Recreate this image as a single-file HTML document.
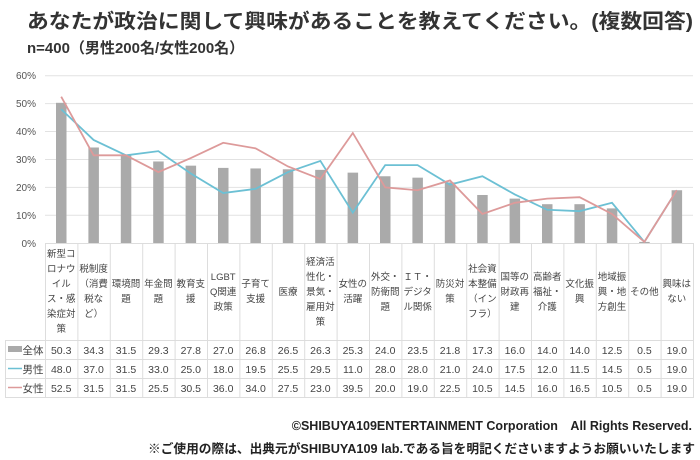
<!DOCTYPE html>
<html><head><meta charset="utf-8"><style>
body{margin:0;background:#fff;}
svg{display:block;font-family:"Liberation Sans","Noto Sans CJK JP",sans-serif;}
</style></head><body>
<svg width="700" height="460" viewBox="0 0 700 460">
<text x="27" y="28" font-size="20" font-weight="bold" fill="#333" textLength="666" lengthAdjust="spacingAndGlyphs">あなたが政治に関して興味があることを教えてください。(複数回答)</text>
<text x="27" y="53" font-size="15" font-weight="bold" fill="#333">n=400（男性200名/女性200名）</text>
<g stroke="#e2e2e2" stroke-width="1">
<line x1="45" x2="693" y1="75.7" y2="75.7"/><line x1="45" x2="693" y1="103.6" y2="103.6"/><line x1="45" x2="693" y1="131.5" y2="131.5"/><line x1="45" x2="693" y1="159.5" y2="159.5"/><line x1="45" x2="693" y1="187.4" y2="187.4"/><line x1="45" x2="693" y1="215.3" y2="215.3"/>
</g>
<g font-size="10" fill="#555" text-anchor="end">
<text x="36" y="79">60%</text><text x="36" y="107">50%</text><text x="36" y="135">40%</text><text x="36" y="163">30%</text><text x="36" y="191">20%</text><text x="36" y="219">10%</text><text x="36" y="247">0%</text>
</g>
<g transform="translate(0,243.3) scale(1,-2.793)">
<g fill="#aaa">
<rect x="56" width="10.5" y="0" height="50.3"/><rect x="88.4" width="10.5" y="0" height="34.3"/><rect x="120.8" width="10.5" y="0" height="31.5"/><rect x="153.2" width="10.5" y="0" height="29.3"/><rect x="185.6" width="10.5" y="0" height="27.8"/><rect x="218" width="10.5" y="0" height="27"/><rect x="250.4" width="10.5" y="0" height="26.8"/><rect x="282.8" width="10.5" y="0" height="26.5"/><rect x="315.2" width="10.5" y="0" height="26.3"/><rect x="347.6" width="10.5" y="0" height="25.3"/><rect x="380" width="10.5" y="0" height="24"/><rect x="412.4" width="10.5" y="0" height="23.5"/><rect x="444.8" width="10.5" y="0" height="21.8"/><rect x="477.2" width="10.5" y="0" height="17.3"/><rect x="509.6" width="10.5" y="0" height="16"/><rect x="542" width="10.5" y="0" height="14"/><rect x="574.4" width="10.5" y="0" height="14"/><rect x="606.8" width="10.5" y="0" height="12.5"/><rect x="639.2" width="10.5" y="0" height="0.5"/><rect x="671.6" width="10.5" y="0" height="19"/>
</g>
<polyline fill="none" stroke="#6cc0d4" stroke-width="1.8" vector-effect="non-scaling-stroke" points="61.2,48 93.6,37 126,31.5 158.4,33 190.8,25 223.2,18 255.6,19.5 288,25.5 320.4,29.5 352.8,11 385.2,28 417.6,28 450,21 482.4,24 514.8,17.5 547.2,12 579.6,11.5 612,14.5 644.4,0.5 676.8,19"/>
<polyline fill="none" stroke="#dd9a9a" stroke-width="1.8" vector-effect="non-scaling-stroke" points="61.2,52.5 93.6,31.5 126,31.5 158.4,25.5 190.8,30.5 223.2,36 255.6,34 288,27.5 320.4,23 352.8,39.5 385.2,20 417.6,19 450,22.5 482.4,10.5 514.8,14.5 547.2,16 579.6,16.5 612,10.5 644.4,0.5 676.8,19"/>
</g>
<g stroke="#ddd" stroke-width="1" fill="none">
<line x1="45" x2="693" y1="243.5" y2="243.5"/>
<line x1="5" x2="693" y1="340.5" y2="340.5"/><line x1="5" x2="693" y1="359.5" y2="359.5"/><line x1="5" x2="693" y1="378.5" y2="378.5"/><line x1="5" x2="693" y1="397.5" y2="397.5"/>
<line x1="5.5" x2="5.5" y1="340" y2="398"/>
<line x1="45.5" x2="45.5" y1="243" y2="398"/><line x1="77.9" x2="77.9" y1="243" y2="398"/><line x1="110.3" x2="110.3" y1="243" y2="398"/><line x1="142.7" x2="142.7" y1="243" y2="398"/><line x1="175.1" x2="175.1" y1="243" y2="398"/><line x1="207.5" x2="207.5" y1="243" y2="398"/><line x1="239.9" x2="239.9" y1="243" y2="398"/><line x1="272.3" x2="272.3" y1="243" y2="398"/><line x1="304.7" x2="304.7" y1="243" y2="398"/><line x1="337.1" x2="337.1" y1="243" y2="398"/><line x1="369.5" x2="369.5" y1="243" y2="398"/><line x1="401.9" x2="401.9" y1="243" y2="398"/><line x1="434.3" x2="434.3" y1="243" y2="398"/><line x1="466.7" x2="466.7" y1="243" y2="398"/><line x1="499.1" x2="499.1" y1="243" y2="398"/><line x1="531.5" x2="531.5" y1="243" y2="398"/><line x1="563.9" x2="563.9" y1="243" y2="398"/><line x1="596.3" x2="596.3" y1="243" y2="398"/><line x1="628.7" x2="628.7" y1="243" y2="398"/><line x1="661.1" x2="661.1" y1="243" y2="398"/><line x1="693.5" x2="693.5" y1="243" y2="398"/>
</g>
<g font-size="9.5" fill="#444" text-anchor="middle">
<text x="61.2" y="257"><tspan x="61.2">新型コ</tspan><tspan x="61.2" dy="15">ロナウ</tspan><tspan x="61.2" dy="15">イル</tspan><tspan x="61.2" dy="15">ス・感</tspan><tspan x="61.2" dy="15">染症対</tspan><tspan x="61.2" dy="15">策</tspan></text>
<text y="272"><tspan x="93.6">税制度</tspan><tspan x="93.6" dy="15">（消費</tspan><tspan x="93.6" dy="15">税な</tspan><tspan x="93.6" dy="15">ど）</tspan></text>
<text y="287"><tspan x="126">環境問</tspan><tspan x="126" dy="15">題</tspan></text>
<text y="287"><tspan x="158.4">年金問</tspan><tspan x="158.4" dy="15">題</tspan></text>
<text y="287"><tspan x="190.8">教育支</tspan><tspan x="190.8" dy="15">援</tspan></text>
<text y="280"><tspan x="223.2">LGBT</tspan><tspan x="223.2" dy="15">Q関連</tspan><tspan x="223.2" dy="15">政策</tspan></text>
<text y="287"><tspan x="255.6">子育て</tspan><tspan x="255.6" dy="15">支援</tspan></text>
<text y="295"><tspan x="288">医療</tspan></text>
<text y="265"><tspan x="320.4">経済活</tspan><tspan x="320.4" dy="15">性化・</tspan><tspan x="320.4" dy="15">景気・</tspan><tspan x="320.4" dy="15">雇用対</tspan><tspan x="320.4" dy="15">策</tspan></text>
<text y="287"><tspan x="352.8">女性の</tspan><tspan x="352.8" dy="15">活躍</tspan></text>
<text y="280"><tspan x="385.2">外交・</tspan><tspan x="385.2" dy="15">防衛問</tspan><tspan x="385.2" dy="15">題</tspan></text>
<text y="280"><tspan x="417.6">ＩＴ・</tspan><tspan x="417.6" dy="15">デジタ</tspan><tspan x="417.6" dy="15">ル関係</tspan></text>
<text y="287"><tspan x="450">防災対</tspan><tspan x="450" dy="15">策</tspan></text>
<text y="272"><tspan x="482.4">社会資</tspan><tspan x="482.4" dy="15">本整備</tspan><tspan x="482.4" dy="15">（イン</tspan><tspan x="482.4" dy="15">フラ）</tspan></text>
<text y="280"><tspan x="514.8">国等の</tspan><tspan x="514.8" dy="15">財政再</tspan><tspan x="514.8" dy="15">建</tspan></text>
<text y="280"><tspan x="547.2">高齢者</tspan><tspan x="547.2" dy="15">福祉・</tspan><tspan x="547.2" dy="15">介護</tspan></text>
<text y="287"><tspan x="579.6">文化振</tspan><tspan x="579.6" dy="15">興</tspan></text>
<text y="280"><tspan x="612">地域振</tspan><tspan x="612" dy="15">興・地</tspan><tspan x="612" dy="15">方創生</tspan></text>
<text y="295"><tspan x="644.4">その他</tspan></text>
<text y="287"><tspan x="676.8">興味は</tspan><tspan x="676.8" dy="15">ない</tspan></text>
</g>
<rect x="8" y="346" width="14" height="6" fill="#aaa"/>
<line x1="8" x2="22" y1="368.5" y2="368.5" stroke="#6cc0d4" stroke-width="1.5"/>
<line x1="8" x2="22" y1="387.5" y2="387.5" stroke="#dd9a9a" stroke-width="1.5"/>
<g font-size="10.5" fill="#444" text-anchor="middle">
<text x="33" y="354">全体</text><text x="33" y="373">男性</text><text x="33" y="392">女性</text>
</g>
<g font-size="10.5" fill="#444" text-anchor="middle">
<text y="354"><tspan x="61.2">50.3</tspan><tspan x="93.6">34.3</tspan><tspan x="126">31.5</tspan><tspan x="158.4">29.3</tspan><tspan x="190.8">27.8</tspan><tspan x="223.2">27.0</tspan><tspan x="255.6">26.8</tspan><tspan x="288">26.5</tspan><tspan x="320.4">26.3</tspan><tspan x="352.8">25.3</tspan><tspan x="385.2">24.0</tspan><tspan x="417.6">23.5</tspan><tspan x="450">21.8</tspan><tspan x="482.4">17.3</tspan><tspan x="514.8">16.0</tspan><tspan x="547.2">14.0</tspan><tspan x="579.6">14.0</tspan><tspan x="612">12.5</tspan><tspan x="644.4">0.5</tspan><tspan x="676.8">19.0</tspan></text>
<text y="373"><tspan x="61.2">48.0</tspan><tspan x="93.6">37.0</tspan><tspan x="126">31.5</tspan><tspan x="158.4">33.0</tspan><tspan x="190.8">25.0</tspan><tspan x="223.2">18.0</tspan><tspan x="255.6">19.5</tspan><tspan x="288">25.5</tspan><tspan x="320.4">29.5</tspan><tspan x="352.8">11.0</tspan><tspan x="385.2">28.0</tspan><tspan x="417.6">28.0</tspan><tspan x="450">21.0</tspan><tspan x="482.4">24.0</tspan><tspan x="514.8">17.5</tspan><tspan x="547.2">12.0</tspan><tspan x="579.6">11.5</tspan><tspan x="612">14.5</tspan><tspan x="644.4">0.5</tspan><tspan x="676.8">19.0</tspan></text>
<text y="392"><tspan x="61.2">52.5</tspan><tspan x="93.6">31.5</tspan><tspan x="126">31.5</tspan><tspan x="158.4">25.5</tspan><tspan x="190.8">30.5</tspan><tspan x="223.2">36.0</tspan><tspan x="255.6">34.0</tspan><tspan x="288">27.5</tspan><tspan x="320.4">23.0</tspan><tspan x="352.8">39.5</tspan><tspan x="385.2">20.0</tspan><tspan x="417.6">19.0</tspan><tspan x="450">22.5</tspan><tspan x="482.4">10.5</tspan><tspan x="514.8">14.5</tspan><tspan x="547.2">16.0</tspan><tspan x="579.6">16.5</tspan><tspan x="612">10.5</tspan><tspan x="644.4">0.5</tspan><tspan x="676.8">19.0</tspan></text>
</g>
<text x="692" y="430" font-size="12.5" font-weight="bold" fill="#222" text-anchor="end">©SHIBUYA109ENTERTAINMENT Corporation　All Rights Reserved.</text>
<text x="695" y="453" font-size="12.5" font-weight="bold" fill="#222" text-anchor="end" textLength="547" lengthAdjust="spacingAndGlyphs">※ご使用の際は、出典元がSHIBUYA109 lab.である旨を明記くださいますようお願いいたします</text>
</svg>
</body></html>
